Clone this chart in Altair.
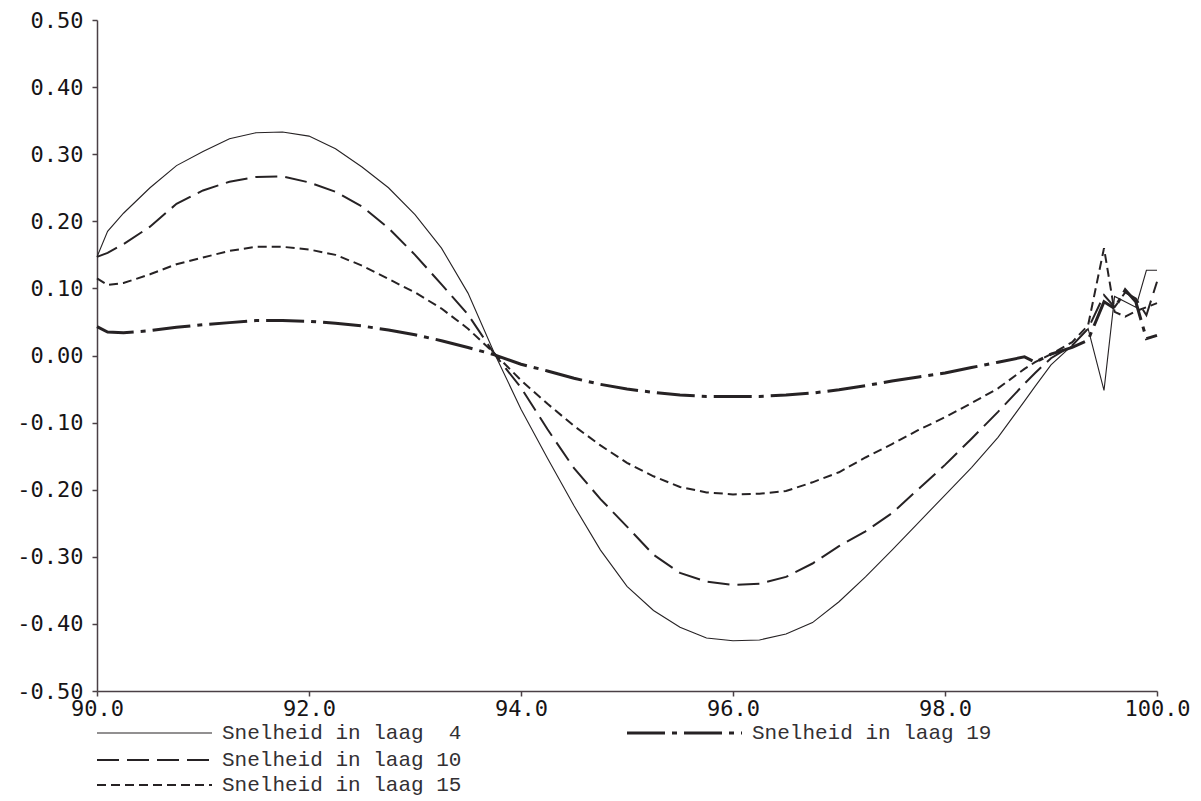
import altair as alt
import pandas as pd

# Positions along the reach (km) shared by all four layers
x_pos = [90.0, 90.1, 90.25, 90.5, 90.75, 91.0, 91.25, 91.5, 91.75, 92.0,
         92.25, 92.5, 92.75, 93.0, 93.25, 93.5, 93.75, 94.0, 94.25, 94.5,
         94.75, 95.0, 95.25, 95.5, 95.75, 96.0, 96.25, 96.5, 96.75, 97.0,
         97.25, 97.5, 97.75, 98.0, 98.25, 98.5, 98.75, 98.85, 99.0, 99.2,
         99.35, 99.5, 99.6, 99.7, 99.8, 99.9, 100.0]

# Velocity (m/s) per layer
laag_4 = [0.147, 0.185, 0.212, 0.250, 0.283, 0.304, 0.323, 0.332, 0.333, 0.327,
          0.308, 0.281, 0.250, 0.210, 0.160, 0.093, 0.003, -0.080, -0.153, -0.224,
          -0.290, -0.344, -0.380, -0.405, -0.421, -0.425, -0.424, -0.415, -0.398, -0.367,
          -0.330, -0.290, -0.249, -0.208, -0.167, -0.122, -0.068, -0.046, -0.014, 0.015,
          0.040, -0.052, 0.088, 0.080, 0.072, 0.127, 0.127]

laag_10 = [0.147, 0.153, 0.166, 0.192, 0.226, 0.246, 0.259, 0.266, 0.267, 0.258,
           0.244, 0.222, 0.190, 0.150, 0.106, 0.061, 0.002, -0.048, -0.110, -0.168,
           -0.214, -0.255, -0.297, -0.324, -0.337, -0.342, -0.340, -0.330, -0.310, -0.284,
           -0.262, -0.235, -0.199, -0.163, -0.124, -0.084, -0.042, -0.026, -0.004, 0.015,
           0.040, 0.090, 0.072, 0.094, 0.085, 0.060, 0.110]

laag_15 = [0.115, 0.105, 0.108, 0.121, 0.136, 0.146, 0.156, 0.162, 0.162, 0.158,
           0.150, 0.134, 0.114, 0.094, 0.070, 0.040, 0.003, -0.037, -0.072, -0.105,
           -0.134, -0.160, -0.180, -0.196, -0.204, -0.207, -0.206, -0.202, -0.189, -0.174,
           -0.152, -0.132, -0.111, -0.092, -0.071, -0.049, -0.020, -0.010, 0.002, 0.020,
           0.045, 0.160, 0.065, 0.058, 0.066, 0.072, 0.078]

laag_19 = [0.043, 0.035, 0.034, 0.037, 0.042, 0.046, 0.049, 0.052, 0.052, 0.051,
           0.048, 0.044, 0.038, 0.031, 0.022, 0.012, 0.001, -0.013, -0.023, -0.034,
           -0.043, -0.050, -0.055, -0.059, -0.061, -0.061, -0.061, -0.059, -0.056, -0.051,
           -0.045, -0.038, -0.032, -0.026, -0.018, -0.010, -0.002, -0.010, 0.002, 0.012,
           0.023, 0.080, 0.070, 0.098, 0.080, 0.025, 0.030]

legend_labels = ["Snelheid in laag \u00a04", "Snelheid in laag 10",
                 "Snelheid in laag 15", "Snelheid in laag 19"]

x_ticks = [90, 92, 94, 96, 98, 100]
y_ticks = [-0.5, -0.4, -0.3, -0.2, -0.1, 0.0, 0.1, 0.2, 0.3, 0.4, 0.5]

W, H = 1060, 671
INK = "#262224"
AXIS_INK = "#4a4045"

# line styles: (dash pattern, width)
styles = [
    ([], 1.1),
    ([22, 8], 2.0),
    ([9, 5], 2.0),
    ([38, 7, 5, 7], 3.0),
]
series = [laag_4, laag_10, laag_15, laag_19]

x_scale = alt.Scale(domain=[90, 100], nice=False, zero=False)
y_scale = alt.Scale(domain=[-0.5, 0.5], nice=False, zero=False)

label_style = dict(labelFont="DejaVu Sans Mono", labelFontSize=22, labelColor="#161416",
                   labelFontWeight=500, domainColor=AXIS_INK, tickColor=AXIS_INK,
                   domainWidth=1.5, tickWidth=1.5, tickSize=5,
                   labelOverlap=False, labelFlush=False, grid=False, title=None)

x_axis = alt.Axis(values=x_ticks, format=".1f", labelPadding=2, **label_style)
y_axis = alt.Axis(values=y_ticks,
                  labelExpr="replace(format(datum.value, '.2f'), '\u2212', '-')",
                  labelPadding=9, **label_style)

layers = []
for vals, (dash, sw) in zip(series, styles):
    df = pd.DataFrame({"km": x_pos, "v": vals})
    mark_kw = dict(color=INK, strokeWidth=sw, clip=False)
    if dash:
        mark_kw["strokeDash"] = dash
    line = alt.Chart(df).mark_line(**mark_kw).encode(
        x=alt.X("km:Q", scale=x_scale, axis=x_axis),
        y=alt.Y("v:Q", scale=y_scale, axis=y_axis),
        order="km:Q",
    )
    layers.append(line)

# Legend below the plot: sample line + label per layer
legend_slots = [(0, 713), (0, 740), (0, 765), (530, 713)]
for (dash, sw), label, (lx, ly) in zip(styles, legend_labels, legend_slots):
    rule_kw = dict(color=INK, strokeWidth=sw)
    if dash:
        rule_kw["strokeDash"] = dash
    sample = alt.Chart(pd.DataFrame({"t": [label]})).mark_rule(**rule_kw).encode(
        x=alt.value(lx), x2=alt.value(lx + 115), y=alt.value(ly)
    )
    txt = alt.Chart(pd.DataFrame({"t": [label]})).mark_text(
        align="left", baseline="middle", font="Liberation Mono", fontSize=21,
        color="#333033"
    ).encode(x=alt.value(lx + 125), y=alt.value(ly), text="t:N")
    layers += [sample, txt]

chart = alt.layer(*layers).properties(
    width=W, height=H,
    autosize=alt.AutoSizeParams(type="none"),
    padding={"left": 97, "top": 20, "right": 44, "bottom": 110},
    background="white",
).configure_view(stroke=None)

chart.save("out.html", embed_options={"renderer": "svg", "actions": False})
